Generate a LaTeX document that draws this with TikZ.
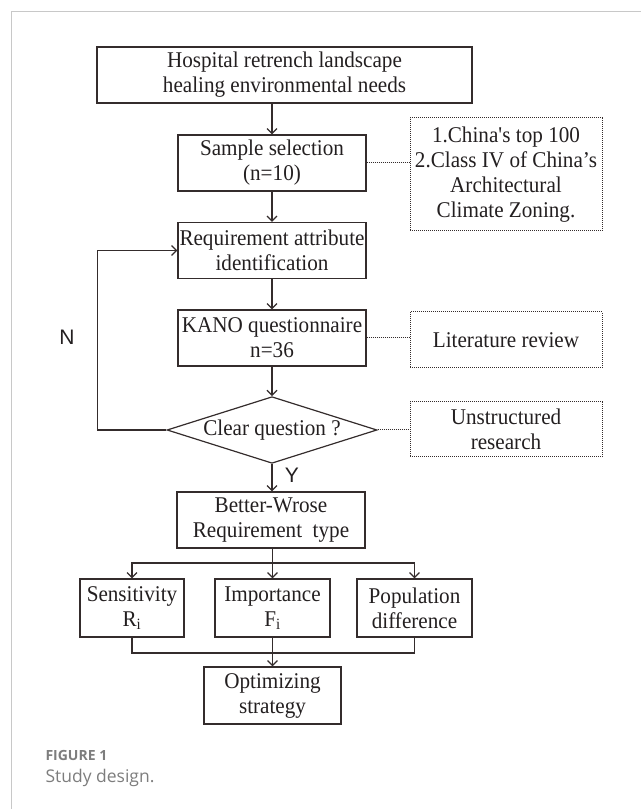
\documentclass[tikz,border=0pt]{standalone}
\usepackage{fontspec}
\setmainfont{Liberation Serif}[FakeStretch=0.94]
\newfontfamily\capfont{Open Sans}
\newfontfamily\markfont{Liberation Sans}
\usetikzlibrary{arrows.meta}
\usetikzlibrary{shapes.geometric}
\definecolor{inkline}{RGB}{52,44,44}
\definecolor{inktext}{RGB}{35,31,32}
\definecolor{framegrey}{RGB}{200,200,200}
\definecolor{capgrey}{RGB}{125,125,125}
\tikzset{
  stepbox/.style={draw=inkline,line width=1.2pt,text=inktext,minimum height=56pt,inner sep=1pt,align=center,font=\fontsize{22.5}{25}\selectfont},
  notebox/.style={draw=inkline,densely dotted,line width=1pt,text=inktext,minimum width=192pt,inner sep=1pt,align=center,font=\fontsize{22.5}{25}\selectfont},
  askbox/.style={draw=inkline,line width=1.2pt,text=inktext,diamond,aspect=3.15,minimum width=208pt,minimum height=66pt,inner sep=1pt,font=\fontsize{22.5}{25}\selectfont},
  flow/.style={draw=inkline,line width=1.2pt,-{Straight Barb[length=5pt,width=10pt]}},
  link/.style={draw=inkline,densely dotted,line width=1pt},
  yesno/.style={text=inktext,font=\markfont\fontsize{21}{25}\selectfont}
}
\begin{document}
\begin{tikzpicture}[x=1pt,y=1pt]
\useasboundingbox (0,0) rectangle (641,809);
\draw[framegrey,line width=1.5pt] (11.5,0) -- (11.5,797.5) -- (641,797.5);
% main flow
\node[stepbox,minimum width=375pt] (need) at (284.5,734) {Hospital retrench landscape\\healing environmental needs};
\node[stepbox,minimum width=188pt] (sample) at (272,646) {Sample selection\\(n=10)};
\node[stepbox,minimum width=188pt] (reqid) at (272,558.5) {Requirement attribute\\identification};
\node[stepbox,minimum width=188pt] (kano) at (272,471) {KANO questionnaire\\n=36};
\node[askbox] (check) at (272,379) {Clear question ?};
\node[stepbox,minimum width=188pt] (better) at (271,289) {Better-Wrose\\Requirement\ \ type};
\node[stepbox,minimum width=104pt,minimum height=58pt] (sens) at (132,201) {Sensitivity\\R\textsubscript{i}};
\node[stepbox,minimum width=115pt,minimum height=58pt] (imp) at (272.5,201) {Importance\\F\textsubscript{i}};
\node[stepbox,minimum width=115pt,minimum height=58pt] (pop) at (414.5,201) {Population\\difference};
\node[stepbox,minimum width=137pt,minimum height=57pt] (opt) at (272.5,113.5) {Optimizing\\strategy};
% side notes
\node[notebox,minimum height=113pt] (notes) at (506,634.5) {1.China\textquotesingle s top 100\\2.Class IV of China’s\\Architectural\\Climate Zoning.};
\node[notebox,minimum height=56pt] (lit) at (506,469) {Literature review};
\node[notebox,minimum height=55pt] (unstr) at (506,379.5) {Unstructured\\research};
\node[yesno] (no) at (67,472) {N};
\node[yesno] (yes) at (292,334) {Y};
% connectors
\coordinate (loopbend) at (97.5,379);
\coordinate (split) at (272.5,246);
\coordinate (join) at (272.5,156);
\draw[flow] (sample.north |- need.south) -- (sample.north);
\draw[flow] (sample) -- (reqid);
\draw[flow] (reqid) -- (kano);
\draw[flow] (kano) -- (check);
\draw[flow] (check) -- (better.north -| check.south);
\draw[flow] (check.west) -- (loopbend) |- (reqid.west);
\draw[flow] (imp.north |- better.south) -- (imp.north);
\draw[flow] (split) -| (sens.north);
\draw[flow] (split) -| (pop.north);
\draw[draw=inkline,line width=1.2pt] (sens.south) |- (join) -| (pop.south);
\draw[flow] (imp.south) -- (opt.north);
\draw[link] (sample.east) -- (sample.east -| notes.west);
\draw[link] (kano.east) -- (kano.east -| lit.west);
\draw[link] (check.east) -- (check.east -| unstr.west);
% caption
\node[anchor=west,text=capgrey,font=\capfont\bfseries\fontsize{14}{16}\selectfont] (figno) at (42,54) {FIGURE 1};
\node[anchor=west,text=capgrey,font=\capfont\fontsize{17.5}{20}\selectfont] (figtitle) at (42,31) {Study design.};
\end{tikzpicture}
\end{document}
